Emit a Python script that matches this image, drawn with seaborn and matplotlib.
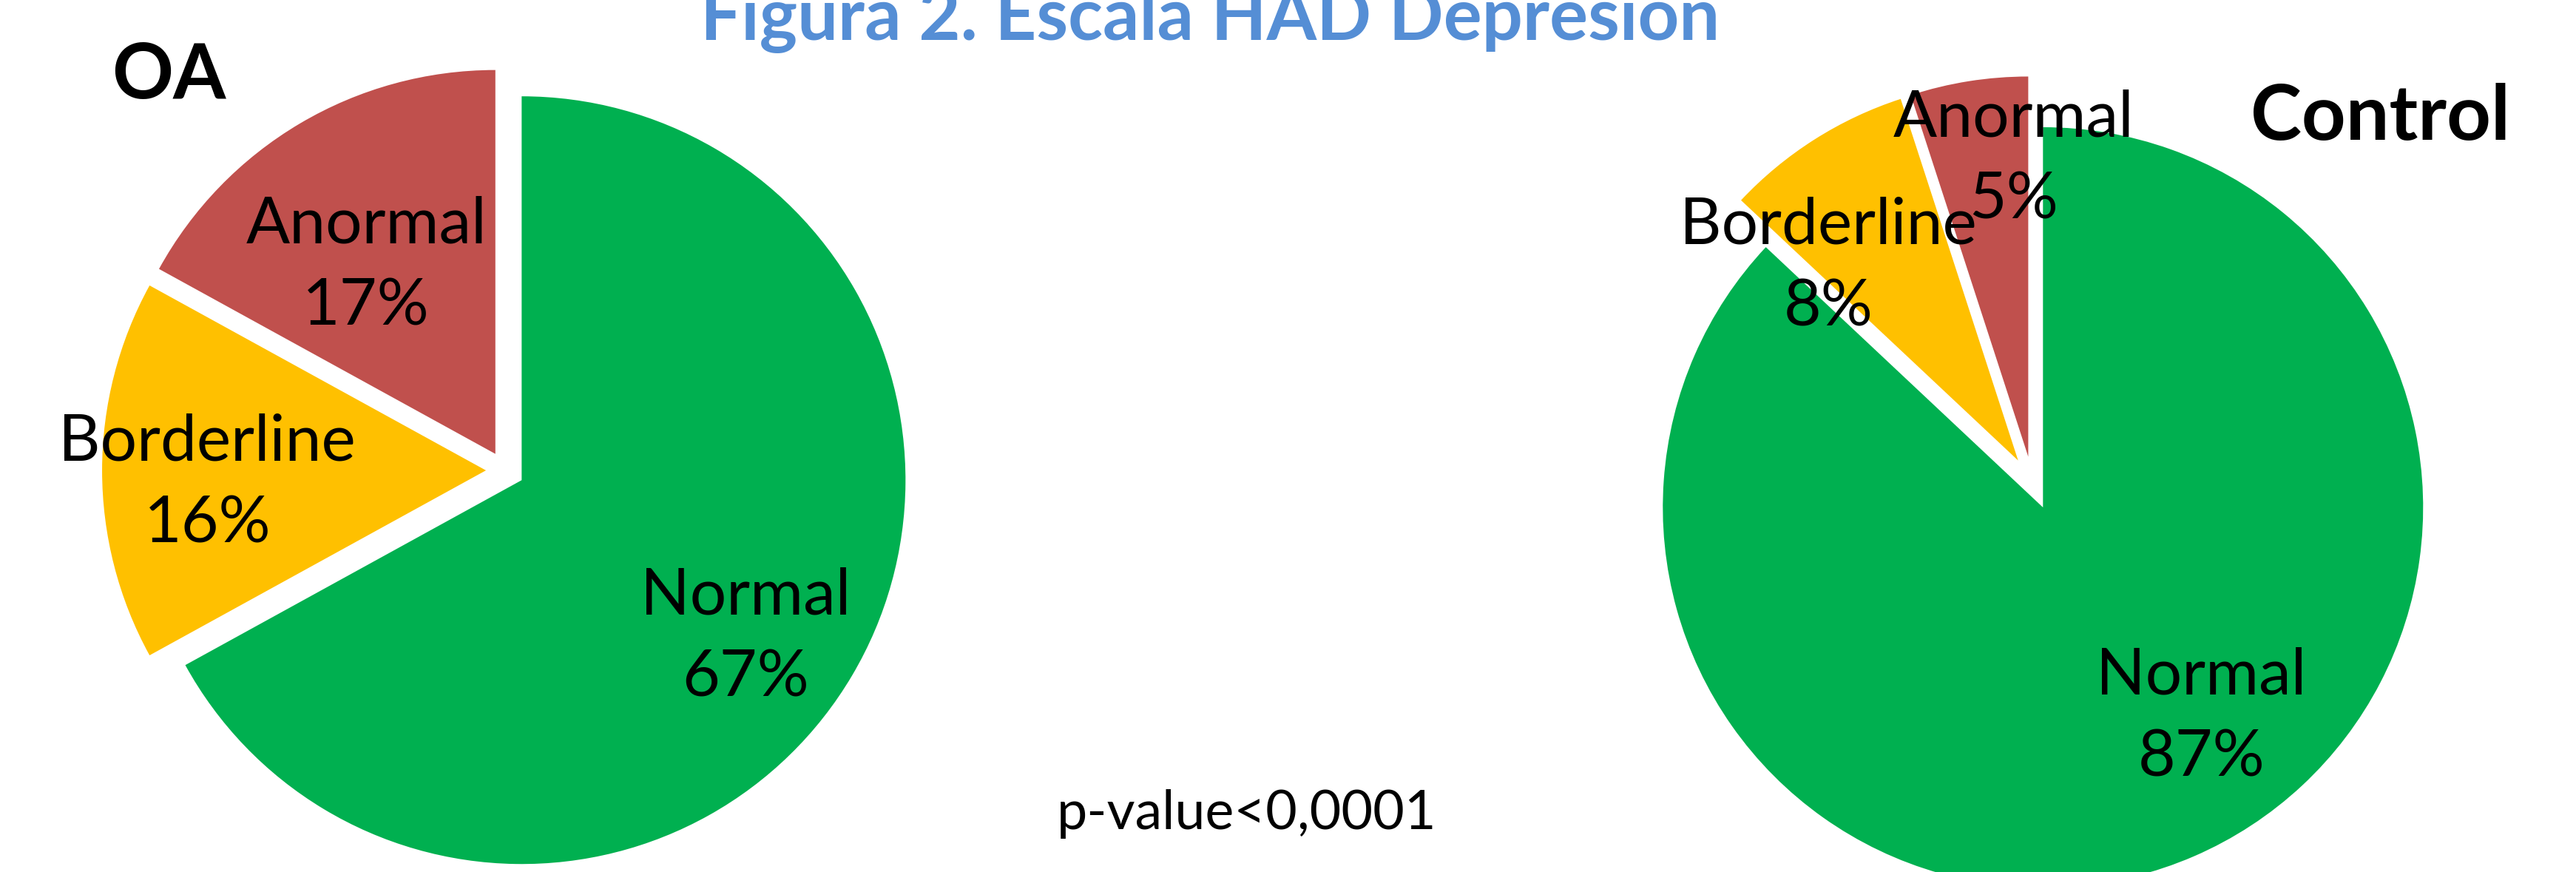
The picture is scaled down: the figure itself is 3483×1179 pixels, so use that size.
import matplotlib
matplotlib.use("Agg")
import matplotlib.pyplot as plt
import seaborn as sns

# data (percent of patients, clockwise from 12 o'clock)
categories = ["Normal", "Borderline", "Anormal"]
oa_values = [67, 16, 17]
control_values = [87, 8, 5]
group_names = ["OA", "Control"]
title_text = "Figura 2. Escala HAD Depresión"
pvalue_text = "p-value<0,0001"

colors = ["#00B050", "#FFC000", "#C0504D"]

# layout (figure pixels) -------------------------------------------------
W, H = 3483, 1179
pies = [
    # values, centre x, centre y (from top), radius, explode, label anchors
    dict(values=oa_values, cx=683, cy=636, r=519, explode=0.05,
         label_xy=[(0.626, -0.434), (-0.776, -0.033), (-0.362, 0.532)]),
    dict(values=control_values, cx=2748, cy=653, r=514, explode=0.07,
         label_xy=[(0.444, -0.615), (-0.537, 0.570), (-0.049, 0.852)]),
]

sns.set_theme(style="white")
plt.rcParams["font.family"] = ["Lato", "DejaVu Sans"]

fig = plt.figure(figsize=(W / 100, H / 100), dpi=100)
fig.patch.set_facecolor("white")

half = 600
for p in pies:
    left = (p["cx"] - half) / W
    bottom = (H - p["cy"] - half) / H
    ax = fig.add_axes([left, bottom, 2 * half / W, 2 * half / H])
    ax.pie(p["values"], colors=colors, startangle=90, counterclock=False,
           explode=[p["explode"]] * len(p["values"]),
           wedgeprops=dict(linewidth=0))
    lim = half / p["r"]
    ax.set_xlim(-lim, lim)
    ax.set_ylim(-lim, lim)
    ax.set_aspect("equal")
    ax.axis("off")
    for cat, val, (lx, ly) in zip(categories, p["values"], p["label_xy"]):
        ax.text(lx, ly, f"{cat}\n{val}%", ha="center", va="center",
                multialignment="center", fontsize=63, color="black",
                linespacing=1.5)

fig.text(1636 / W, 1 - 54 / H, title_text, ha="center", va="baseline",
         fontsize=70, fontweight="bold", color="#558ED5")
fig.text(151 / W, 1 - 133 / H, group_names[0], ha="left", va="baseline",
         fontsize=74, fontweight="bold", color="black")
fig.text(3043 / W, 1 - 189 / H, group_names[1], ha="left", va="baseline",
         fontsize=75, fontweight="bold", color="black")
fig.text(1686 / W, 1 - 1121 / H, pvalue_text, ha="center", va="baseline",
         fontsize=53, color="black")

fig.savefig("out.png", dpi=100, facecolor="white")
